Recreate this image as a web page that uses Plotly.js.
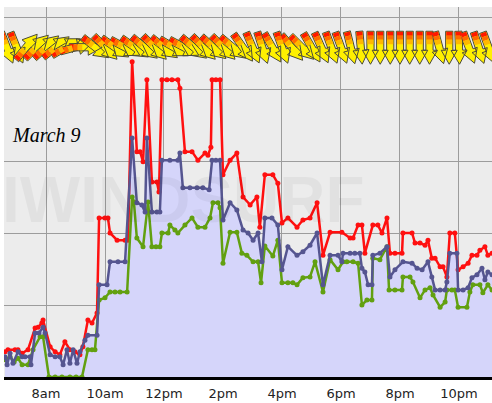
<!DOCTYPE html>
<html><head><meta charset="utf-8">
<script src="https://cdn.plot.ly/plotly-3.0.1.min.js"></script>
<style>html,body{margin:0;padding:0;background:#fff;overflow:hidden}#chart{width:492px;height:403px}</style>
</head><body><div id="chart"></div>
<script>
// ---- data (hours of day, wind speed) ----
const redTimes = [6.61,6.71,6.95,7.05,7.19,7.39,7.63,7.73,7.86,7.90,
 8.14,8.31,8.47,8.64,8.81,8.98,9.15,9.25,9.42,9.56,
 9.73,9.80,10.00,10.10,10.17,10.41,10.68,10.78,10.92,11.08,
 11.19,11.29,11.42,11.59,11.76,11.83,11.93,12.10,12.27,12.47,
 12.54,12.71,12.95,13.15,13.39,13.49,13.59,13.63,13.76,13.90,
 14.00,14.24,14.47,14.68,14.92,15.15,15.25,15.42,15.69,15.86,
 16.00,16.20,16.51,16.71,16.95,17.19,17.39,17.63,18.03,18.31,
 18.41,18.58,18.71,18.81,19.08,19.25,19.39,19.56,19.66,19.83,
 20.07,20.10,20.41,20.51,20.68,20.85,20.95,21.08,21.19,21.36,
 21.46,21.59,21.69,21.86,21.97,22.14,22.31,22.44,22.61,22.71,
 22.88,22.98,23.12];
const redValues = [3.5,3.8,3.8,3.8,3.3,3.8,6.8,6.9,7.5,7.9,
 4.2,3.5,3.1,4.9,3.8,3.5,3.1,4.2,7.9,7.5,
 8.9,22.1,22.1,22.1,20.0,19.0,19.0,19.0,43.8,31.3,
 31.3,29.9,41.3,27.1,27.1,25.7,41.3,41.3,41.3,41.3,
 40.1,31.3,31.3,30.1,31.1,30.8,31.9,41.3,41.3,41.3,
 28.1,30.1,31.1,25.0,23.9,25.0,20.8,28.1,28.1,26.9,
 21.4,22.1,20.8,21.8,22.1,24.2,16.9,20.1,20.1,19.3,
 19.3,21.1,21.1,17.2,21.1,21.1,20.0,22.1,17.2,17.2,
 17.2,20.0,20.0,18.6,18.6,18.3,19.0,16.5,16.5,15.3,
 15.3,13.9,20.0,20.0,14.9,15.3,15.8,16.9,16.9,17.6,
 18.1,16.9,17.2];

const blueTimes = [6.61,6.68,6.78,6.88,7.05,7.19,7.29,7.46,7.49,7.63,
 7.76,7.90,7.97,8.14,8.31,8.47,8.58,8.71,8.81,8.92,
 9.05,9.15,9.32,9.42,9.73,9.80,10.07,10.17,10.44,10.68,
 10.92,11.08,11.25,11.36,11.42,11.59,11.76,11.86,11.93,12.20,
 12.47,12.54,12.64,12.88,13.12,13.32,13.53,13.63,13.76,13.90,
 14.00,14.24,14.47,14.68,14.85,15.02,15.19,15.32,15.42,15.66,
 15.86,16.00,16.20,16.51,16.71,16.95,17.19,17.39,17.63,17.90,
 18.03,18.07,18.31,18.47,18.64,18.71,18.81,18.92,19.05,19.08,
 19.32,19.56,19.66,19.83,20.10,20.41,20.58,20.75,20.95,21.08,
 21.19,21.36,21.53,21.59,21.69,21.93,21.97,22.14,22.31,22.44,
 22.61,22.78,22.88,22.98,23.12];
const blueValues = [2.8,1.7,3.3,1.9,3.5,2.8,2.8,2.8,1.7,6.1,
 6.1,6.9,6.1,3.1,2.8,2.8,1.7,3.8,1.9,3.8,
 1.9,3.5,5.1,5.8,5.8,12.8,12.8,16.0,16.0,16.0,
 33.2,24.2,23.9,22.9,33.2,22.9,22.9,22.9,30.1,30.1,
 30.1,31.1,26.3,26.3,26.3,26.3,26.0,30.1,30.1,30.1,
 21.8,24.2,23.2,20.4,20.0,19.0,20.0,16.0,22.1,22.1,
 21.1,14.9,18.1,16.9,17.4,18.3,20.0,12.8,16.9,16.9,
 16.0,17.2,17.2,17.2,17.2,15.1,14.6,12.8,12.8,16.9,
 17.2,18.1,13.9,14.9,16.0,15.8,15.1,14.9,16.0,13.9,
 12.1,12.1,12.1,13.2,17.2,17.2,12.1,12.1,12.4,13.8,
 14.2,15.1,13.5,14.6,14.2];

const greenTimes = [6.61,6.78,6.92,7.05,7.19,7.39,7.56,7.80,7.90,8.10,
 8.31,8.54,8.81,9.02,9.22,9.42,9.56,9.66,9.80,10.00,
 10.17,10.34,10.51,10.75,10.92,10.98,11.08,11.29,11.46,11.59,
 11.73,11.86,11.93,12.14,12.20,12.37,12.47,12.71,12.95,13.15,
 13.39,13.56,13.66,13.83,13.90,14.00,14.24,14.47,14.64,14.81,
 15.02,15.19,15.29,15.42,15.69,15.86,16.00,16.20,16.37,16.51,
 16.71,16.95,17.12,17.39,17.63,17.90,18.07,18.20,18.41,18.58,
 18.71,18.88,19.05,19.08,19.32,19.56,19.63,19.83,20.07,20.10,
 20.34,20.44,20.68,20.85,21.02,21.12,21.36,21.53,21.59,21.76,
 21.86,21.97,22.27,22.37,22.47,22.71,22.81,22.98,23.12];
const greenValues = [2.4,2.8,2.1,2.6,1.7,1.7,3.8,5.6,5.6,0,
 0,0,0,0,0,3.8,3.8,3.8,10.7,11.0,
 11.8,11.8,11.8,11.8,25.0,24.3,19.3,18.1,24.3,18.1,
 18.1,18.1,20.0,20.0,21.1,20.4,20.0,21.1,22.1,20.8,
 20.8,22.1,24.2,24.2,23.5,15.8,20.1,20.1,17.2,16.9,
 16.0,16.0,13.1,18.2,16.8,19.0,13.1,13.1,13.1,12.8,
 13.8,13.9,16.0,11.8,16.3,14.9,16.0,16.0,16.0,15.8,
 10.0,10.7,10.7,16.5,16.3,18.1,12.1,12.1,12.1,13.9,
 13.9,13.2,11.0,12.1,12.4,11.4,9.7,10.4,12.1,12.1,
 12.1,9.7,9.7,11.8,12.8,12.8,11.7,12.8,12.1];

// wind direction (degrees, direction wind blows from) at arrow times
const arrowTimes = [6.67,7.00,7.33,7.67,8.00,8.33,8.67,9.00,9.33,9.67,
 10.00,10.33,10.67,11.00,11.33,11.67,12.00,12.33,12.67,13.00,
 13.33,13.67,14.00,14.33,14.67,15.00,15.33,15.67,16.00,16.33,
 16.67,17.00,17.33,17.67,18.00,18.33,18.67,19.00,19.33,19.67,
 20.00,20.33,20.67,21.00,21.33,21.67,22.00,22.33,22.67,23.00];
const windDirs = [339,338,220,225,228,232,240,255,270,308,
 315,305,298,305,310,315,308,300,298,310,
 315,312,315,310,325,337,342,330,340,320,
 315,330,336,340,340,346,355,0,0,0,
 0,0,0,0,345,0,358,340,342,340];

const tickHours = [8,10,12,14,16,18,20,22];
const tickLabels = ['8am','10am','12pm','2pm','4pm','6pm','8pm','10pm'];
const dateLabel = 'March 9';
const watermarkText = 'IWINDSURF';

// ---- layout geometry ----
const W = 492, H = 403;
const margin = {l:4, r:0, t:7, b:26, pad:0};
const xRange = [6.576, 23.12];
const yRange = [0, 51.39];
const pxPerHour = (W - margin.l - margin.r) / (xRange[1] - xRange[0]);
const pxPerUnit = (H - margin.t - margin.b) / (yRange[1] - yRange[0]);
const arrowLevel = 45.8;

function arrowPolys(shape) {
  const xs = [], ys = [];
  arrowTimes.forEach((t, i) => {
    const th = (windDirs[i] - 270) * Math.PI / 180;
    const ux = Math.cos(th), uy = Math.sin(th);
    const pts = shape.concat([shape[0]]);
    pts.forEach(([a, p]) => {
      const dx = a * ux - p * uy;
      const dy = a * uy + p * ux;
      xs.push(t + dx / pxPerHour);
      ys.push(arrowLevel - dy / pxPerUnit);
    });
    xs.push(null); ys.push(null);
  });
  return {xs, ys};
}
const body = arrowPolys([[-16,-3.6],[3,-3.6],[3,-8],[17,0],[3,8],[3,3.6],[-16,3.6]]);
const tail1 = arrowPolys([[-15.5,-3],[-11.5,-3],[-11.5,3],[-15.5,3]]);
const tail2 = arrowPolys([[-11.5,-3],[-7.5,-3],[-7.5,3],[-11.5,3]]);
const tail3 = arrowPolys([[-7.5,-3],[-3,-3],[-3,3],[-7.5,3]]);

function polyTrace(p, fill, lineColor, lw) {
  return {x:p.xs, y:p.ys, mode:'lines', fill:'toself', fillcolor:fill,
    line:{color:lineColor, width:lw}, connectgaps:false, hoverinfo:'skip'};
}
function lineTrace(x, y, color) {
  return {x, y, mode:'lines+markers', line:{color, width:2.5},
    marker:{color, size:5}, hoverinfo:'skip'};
}

const traces = [
  {x:blueTimes, y:blueValues, mode:'none', fill:'tozeroy', fillcolor:'#D5D5FA', hoverinfo:'skip'},
  lineTrace(redTimes, redValues, '#FF1010'),
  lineTrace(greenTimes, greenValues, '#62A010'),
  lineTrace(blueTimes, blueValues, '#555590'),
  polyTrace(body, '#FFF000', '#4a4a3a', 1),
  polyTrace(tail1, '#FF1800', 'rgba(0,0,0,0)', 0),
  polyTrace(tail2, '#FF6A00', 'rgba(0,0,0,0)', 0),
  polyTrace(tail3, '#FFB800', 'rgba(0,0,0,0)', 0)
];

const layout = {
  width: W, height: H, margin,
  paper_bgcolor: '#ffffff', plot_bgcolor: '#ECECEC',
  showlegend: false,
  xaxis: {range: xRange, tickvals: tickHours, ticktext: tickLabels,
    showgrid: true, gridcolor: '#9c9c9c', gridwidth: 1, zeroline: false,
    showline: true, linecolor: '#000', linewidth: 2.5, ticks: '',
    ticklabelstandoff: 3,
    tickfont: {family: 'DejaVu Sans, Verdana, sans-serif', size: 13, color: '#222'}},
  yaxis: {range: yRange, tick0: 0, dtick: 10, showgrid: true, gridcolor: '#9c9c9c',
    gridwidth: 1, zeroline: false, showline: false, showticklabels: false, ticks: ''},
  annotations: [
    {text: watermarkText, xref: 'paper', yref: 'paper', x: -0.008, y: 0.478,
     xanchor: 'left', yanchor: 'middle', showarrow: false,
     font: {family: 'Liberation Sans, Arial, sans-serif', size: 64, weight: 'bold', color: 'rgba(0,0,0,0.045)'}},
    {text: dateLabel, xref: 'paper', yref: 'paper', x: 0.0123, y: 0.654,
     xanchor: 'left', yanchor: 'middle', showarrow: false,
     font: {family: 'Liberation Serif, Times New Roman, serif', size: 20, style: 'italic', color: '#000'}}
  ]
};

Plotly.newPlot('chart', traces, layout, {staticPlot: true, displayModeBar: false});
</script>
</body></html>
